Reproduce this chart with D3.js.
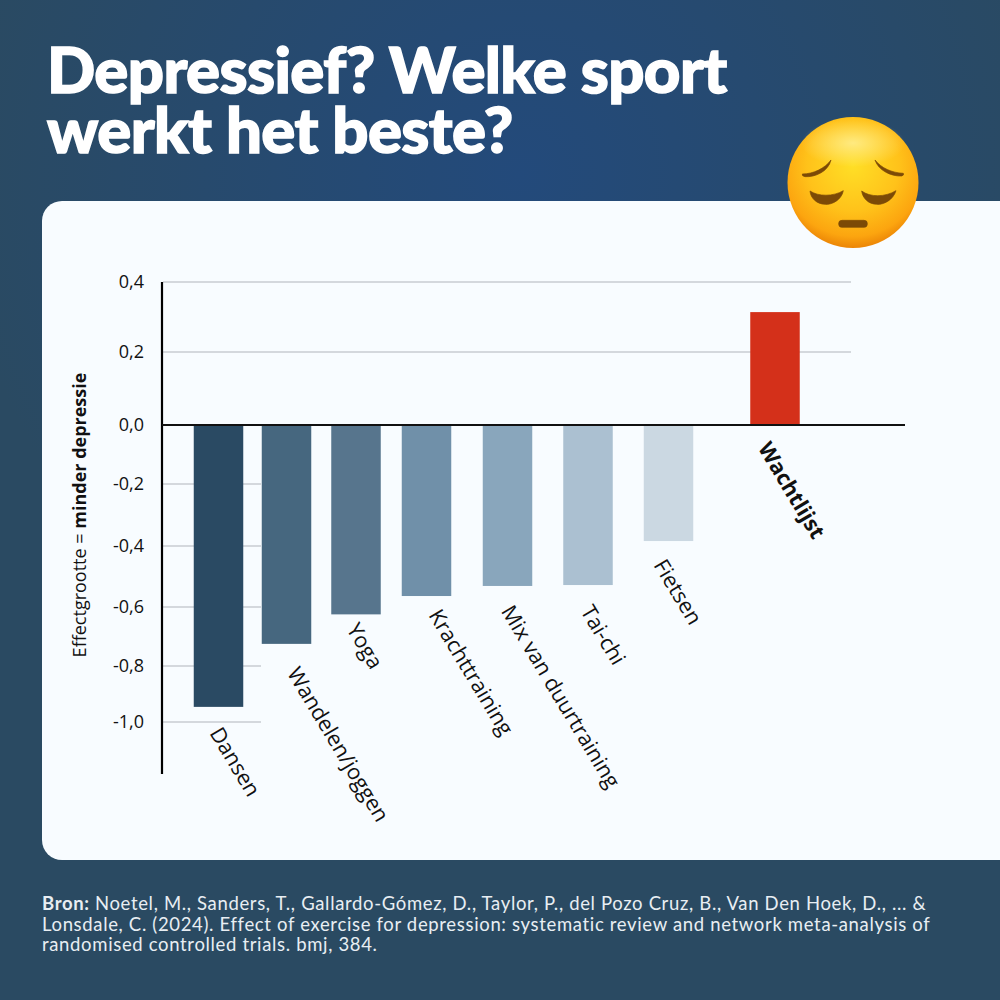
<!DOCTYPE html>
<html>
<head>
<meta charset="utf-8">
<script src="https://d3js.org/d3.v7.min.js"></script>
<style>
  html, body { margin: 0; padding: 0; background: #2a4a62; }
  svg { display: block; }
</style>
</head>
<body>
<div id="chart"></div>
<script>
// data
var categories = ["Dansen", "Wandelen/joggen", "Yoga", "Krachttraining", "Mix van duurtraining", "Tai-chi", "Fietsen", "Wachtlijst"];
var effects = [-0.946, -0.725, -0.625, -0.564, -0.531, -0.528, -0.384, 0.314];
var barColors = ["#2a4a63", "#46677f", "#57758d", "#7090a9", "#89a6bc", "#abc0d1", "#cbd8e2", "#d4301a"];
var yTicks = [0.4, 0.2, 0, -0.2, -0.4, -0.6, -0.8, -1];
var yTickLabels = ["0,4", "0,2", "0,0", "-0,2", "-0,4", "-0,6", "-0,8", "-1,0"];
var titleLines = ["Depressief? Welke sport", "werkt het beste?"];
var sourceLines = [
  "Noetel, M., Sanders, T., Gallardo-Gómez, D., Taylor, P., del Pozo Cruz, B., Van Den Hoek, D., ... &",
  "Lonsdale, C. (2024). Effect of exercise for depression: systematic review and network meta-analysis of",
  "randomised controlled trials. bmj, 384."
];

// layout, the axis in the picture is not evenly spaced so the scale has one stop per tick
var width = 1000, height = 1000;
var yStops = [282, 352, 425, 484, 546, 607, 666, 722];
var barCentres = [218.5, 286.5, 356, 426.5, 507.5, 588, 668.5, 775];
var barWidth = 49.5;
var labelX = [209, 286.5, 346, 428, 500.5, 580, 653, 757.5];
var labelY = [733, 673, 629, 615, 611, 611, 565, 448];
var labelFont = "'Open Sans', sans-serif";

var y = d3.scaleLinear().domain(yTicks).range(yStops);
var x = d3.scaleOrdinal().domain(categories).range(barCentres);

var svg = d3.select("#chart").append("svg")
    .attr("width", width)
    .attr("height", height);

var defs = svg.append("defs");

var bg = defs.append("radialGradient")
    .attr("id", "bg")
    .attr("gradientUnits", "userSpaceOnUse")
    .attr("cx", 520).attr("cy", 175).attr("r", 560);
bg.append("stop").attr("offset", 0).attr("stop-color", "#234a7b");
bg.append("stop").attr("offset", 1).attr("stop-color", "#2a4a62");

var face = defs.append("radialGradient")
    .attr("id", "face")
    .attr("gradientUnits", "userSpaceOnUse")
    .attr("cx", 853).attr("cy", 165).attr("r", 84);
face.append("stop").attr("offset", 0).attr("stop-color", "#ffdf26");
face.append("stop").attr("offset", 0.55).attr("stop-color", "#ffc21a");
face.append("stop").attr("offset", 0.85).attr("stop-color", "#fca50f");
face.append("stop").attr("offset", 1).attr("stop-color", "#ea8205");

var shine = defs.append("radialGradient")
    .attr("id", "shine");
shine.append("stop").attr("offset", 0).attr("stop-color", "#fff2a0").attr("stop-opacity", 0.75);
shine.append("stop").attr("offset", 1).attr("stop-color", "#fff2a0").attr("stop-opacity", 0);

// background and card
svg.append("rect")
    .attr("width", width)
    .attr("height", height)
    .attr("fill", "url(#bg)");

svg.append("rect")
    .attr("x", 42).attr("y", 201)
    .attr("width", 1000).attr("height", 659)
    .attr("rx", 20)
    .attr("fill", "#f8fcff");

// title
svg.append("g").selectAll("text")
    .data(titleLines)
    .enter()
    .append("text")
    .attr("x", 47)
    .attr("y", function(d, i) { return 93 + i * 60; })
    .attr("font-family", "Lato, sans-serif")
    .attr("font-weight", 900)
    .attr("font-size", 63.5)
    .attr("letter-spacing", -0.6)
    .attr("stroke", "#ffffff")
    .attr("stroke-width", 1.5)
    .attr("fill", "#ffffff")
    .text(function(d) { return d; });

// gridlines, below zero they stop at the second bar
svg.append("g").selectAll("line")
    .data(yTicks.filter(function(d) { return d !== 0; }))
    .enter()
    .append("line")
    .attr("x1", 163)
    .attr("x2", function(d) { return d > 0 ? 851 : 261; })
    .attr("y1", function(d) { return y(d); })
    .attr("y2", function(d) { return y(d); })
    .attr("stroke", "#c8cdd2")
    .attr("stroke-width", 1.6);

// bars
svg.append("g").selectAll("rect")
    .data(categories)
    .enter()
    .append("rect")
    .attr("x", function(d) { return x(d) - barWidth / 2; })
    .attr("width", barWidth)
    .attr("y", function(d, i) { return Math.min(y(effects[i]), y(0)); })
    .attr("height", function(d, i) { return Math.abs(y(effects[i]) - y(0)); })
    .attr("fill", function(d, i) { return barColors[i]; });

// y axis
var yAxis = svg.append("g")
    .attr("transform", "translate(162,0)")
    .call(d3.axisLeft(y)
      .tickValues(yTicks)
      .tickSize(0)
      .tickPadding(18)
      .tickFormat(function(d, i) { return yTickLabels[i]; }));

yAxis.select(".domain").remove();
yAxis.selectAll("text")
    .attr("font-family", labelFont)
    .attr("font-size", 18)
    .attr("fill", "#111111");

svg.append("line")
    .attr("x1", 162).attr("x2", 162)
    .attr("y1", 282).attr("y2", 774)
    .attr("stroke", "#000000")
    .attr("stroke-width", 2.2);

svg.append("line")
    .attr("x1", 162).attr("x2", 905)
    .attr("y1", y(0)).attr("y2", y(0))
    .attr("stroke", "#111111")
    .attr("stroke-width", 2);

// axis title
var axisTitle = svg.append("text")
    .attr("transform", "translate(86,515) rotate(-90)")
    .attr("text-anchor", "middle")
    .attr("font-family", labelFont)
    .attr("font-size", 18)
    .attr("fill", "#111111");
axisTitle.append("tspan").text("Effectgrootte = ");
axisTitle.append("tspan").attr("font-weight", 700).text("minder depressie");

// slanted category labels
svg.append("g").selectAll("text")
    .data(categories)
    .enter()
    .append("text")
    .attr("transform", function(d, i) {
      return "translate(" + labelX[i] + "," + labelY[i] + ") rotate(59)";
    })
    .attr("font-family", labelFont)
    .attr("font-size", 21.5)
    .attr("font-weight", function(d) { return d === "Wachtlijst" ? 700 : 400; })
    .attr("fill", "#111111")
    .text(function(d) { return d; });

// source
var source = svg.append("g")
    .attr("font-family", "Lato, sans-serif")
    .attr("font-size", 18.5)
    .attr("letter-spacing", 0.66)
    .attr("fill", "#e8eef3");

source.selectAll("text")
    .data(sourceLines)
    .enter()
    .append("text")
    .attr("x", 42)
    .attr("y", function(d, i) { return 910 + i * 20.5; })
    .each(function(d, i) {
      if (i === 0) d3.select(this).append("tspan").attr("font-weight", 700).text("Bron: ");
      d3.select(this).append("tspan").text(d);
    });

// emoji, shapes traced in a 3x crop of the picture
var emoji = svg.append("g");
emoji.append("circle")
    .attr("cx", 853).attr("cy", 182.5).attr("r", 65.5)
    .attr("fill", "url(#face)");
emoji.append("ellipse")
    .attr("cx", 853).attr("cy", 143).attr("rx", 52).attr("ry", 24)
    .attr("fill", "url(#shine)");

var features = emoji.append("g")
    .attr("transform", "translate(760,100) scale(0.3333)")
    .attr("fill", "#7c4a06")
    .attr("stroke", "#7c4a06")
    .attr("stroke-width", 2);
features.append("path").attr("d", "M127,222 C160,222 195,205 213,180 C205,215 165,232 135,230 Q125,228 127,222Z");
features.append("path").attr("d", "M345,180 C365,205 395,218 430,220 Q433,226 425,228 C395,230 355,212 345,180Z");
features.append("path").attr("d", "M150,273 C175,290 220,290 250,272 C245,300 215,315 195,313 C170,312 152,295 150,273Z");
features.append("path").attr("d", "M305,273 C330,292 375,292 408,272 C400,300 370,315 350,313 C325,312 308,295 305,273Z");
features.append("rect")
    .attr("x", 236).attr("y", 361)
    .attr("width", 86).attr("height", 21)
    .attr("rx", 10);
</script>
</body>
</html>
